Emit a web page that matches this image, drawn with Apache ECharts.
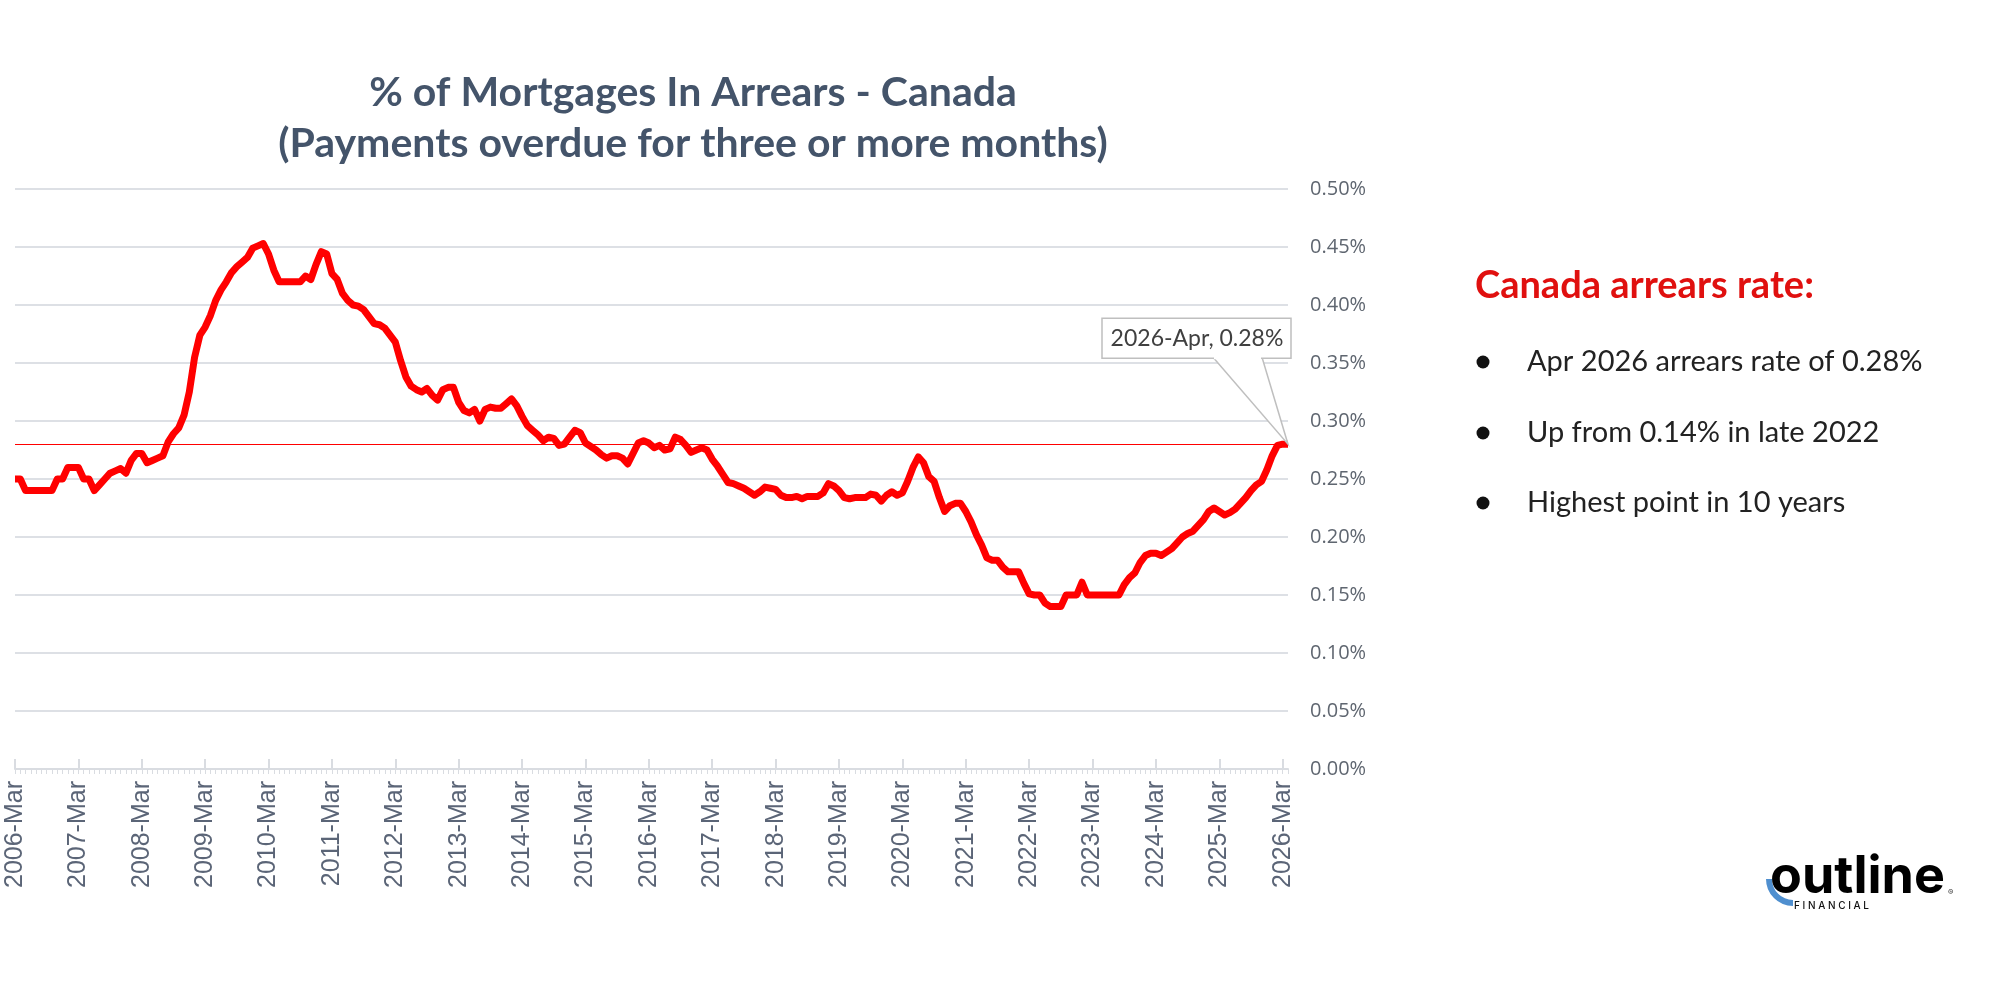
<!DOCTYPE html>
<html>
<head>
<meta charset="utf-8">
<script src="https://cdn.jsdelivr.net/npm/echarts@6/dist/echarts.min.js"></script>
<style>
html,body{margin:0;padding:0;background:#fff;}
#chart{width:1999px;height:988px;}
</style>
</head>
<body>
<div id="chart"></div>
<script>
// monthly arrears rate (%), 2006-Mar .. 2026-Apr
var arrears = [
    0.25,0.25,0.24,0.24,0.24,0.24,0.24,0.24,0.25,0.25,0.26,0.26,
    0.26,0.25,0.25,0.24,0.245,0.25,0.255,0.257,0.259,0.255,0.266,0.272,
    0.272,0.264,0.266,0.268,0.27,0.282,0.289,0.294,0.305,0.325,0.355,0.374,
    0.381,0.391,0.404,0.413,0.42,0.428,0.433,0.437,0.441,0.449,0.451,0.453,
    0.444,0.43,0.42,0.42,0.42,0.42,0.42,0.425,0.422,0.435,0.446,0.444,
    0.427,0.422,0.41,0.404,0.40,0.399,0.396,0.39,0.384,0.383,0.38,0.374,
    0.368,0.352,0.338,0.33,0.327,0.325,0.328,0.322,0.318,0.327,0.329,0.329,
    0.316,0.309,0.307,0.31,0.30,0.31,0.312,0.311,0.311,0.315,0.319,0.313,
    0.304,0.296,0.292,0.288,0.283,0.286,0.285,0.279,0.28,0.286,0.292,0.29,
    0.281,0.278,0.275,0.271,0.268,0.27,0.27,0.268,0.263,0.272,0.281,0.283,
    0.281,0.277,0.279,0.275,0.276,0.286,0.284,0.279,0.273,0.275,0.277,0.275,
    0.267,0.261,0.254,0.247,0.246,0.244,0.242,0.239,0.236,0.239,0.243,0.242,
    0.241,0.236,0.234,0.234,0.235,0.233,0.235,0.235,0.235,0.238,0.246,0.244,
    0.24,0.234,0.233,0.234,0.234,0.234,0.237,0.236,0.231,0.236,0.239,0.236,
    0.238,0.248,0.26,0.269,0.264,0.252,0.248,0.234,0.222,0.227,0.229,0.229,
    0.222,0.213,0.202,0.193,0.182,0.18,0.18,0.174,0.17,0.17,0.17,0.16,
    0.151,0.15,0.15,0.143,0.14,0.14,0.14,0.15,0.15,0.15,0.161,0.15,
    0.15,0.15,0.15,0.15,0.15,0.15,0.159,0.165,0.169,0.178,0.184,0.186,
    0.186,0.184,0.187,0.19,0.195,0.2,0.203,0.205,0.21,0.215,0.222,0.225,
    0.222,0.219,0.221,0.224,0.229,0.234,0.24,0.245,0.248,0.258,0.27,0.279,
    0.28,0.28
];
var monthNames = ['Jan','Feb','Mar','Apr','May','Jun','Jul','Aug','Sep','Oct','Nov','Dec'];
var refLevel = 0.28;
var titleLines = ['% of Mortgages In Arrears - Canada', '(Payments overdue for three or more months)'];
var panelTitle = 'Canada arrears rate:';
var bullets = ['Apr 2026 arrears rate of 0.28%', 'Up from 0.14% in late 2022', 'Highest point in 10 years'];

var months = [];
for (var y = 2006; y <= 2026; y++) {
    for (var m = 0; m < 12; m++) {
        if (y == 2006 && m < 2) continue;
        if (y == 2026 && m > 3) continue;
        months.push(y + '-' + monthNames[m]);
    }
}
var lastIdx = arrears.length - 1;

var chart = echarts.init(document.getElementById('chart'));

var option = {
    backgroundColor: '#fff',
    animation: false,
    grid: {left: 15, right: 711, top: 189, bottom: 219},
    xAxis: [
        {
            type: 'category',
            data: months,
            boundaryGap: false,
            axisLine: {lineStyle: {color: '#d9dce1', width: 2}},
            axisTick: {interval: 0, length: 5, lineStyle: {color: '#d9dce1'}},
            axisLabel: {
                interval: 11, rotate: 90, margin: 12,
                fontFamily: 'Liberation Sans', fontSize: 25, color: '#5b6577'
            },
            splitLine: {show: false}
        },
        {
            // the taller yearly ticks
            type: 'category',
            data: months,
            boundaryGap: false,
            position: 'bottom',
            axisLine: {show: false},
            axisTick: {interval: 11, inside: true, length: 10, lineStyle: {color: '#d9dce1', width: 2}},
            axisLabel: {show: false}
        }
    ],
    yAxis: {
        type: 'value',
        position: 'right',
        min: 0, max: 0.5, interval: 0.05,
        axisLine: {show: false},
        axisTick: {show: false},
        axisLabel: {
            margin: 22, fontFamily: 'Open Sans', fontSize: 20, color: '#5f6670',
            formatter: function (v) { return v.toFixed(2) + '%'; }
        },
        splitLine: {lineStyle: {color: '#dde0e5', width: 2}}
    },
    series: [{
        type: 'line',
        data: arrears,
        showSymbol: false,
        lineStyle: {color: '#ff0000', width: 7, join: 'round'},
        itemStyle: {color: '#ff0000'},
        z: 5,
        markLine: {
            silent: true,
            symbol: 'none',
            label: {show: false},
            lineStyle: {color: '#ff0000', width: 1.2, type: 'solid'},
            data: [{yAxis: refLevel}]
        }
    }]
};
chart.setOption(option);

// callout anchored to the last point
var pt = chart.convertToPixel({seriesIndex: 0}, [months[lastIdx], arrears[lastIdx]]);
var px = pt[0], py = pt[1];

var graphics = [
    {type: 'text', x: 693, y: 93, style: {text: titleLines[0], fontFamily: 'Lato', fontWeight: 'bold', fontSize: 41, fill: '#44546a', textAlign: 'center', textVerticalAlign: 'middle'}},
    {type: 'text', x: 693, y: 144, style: {text: titleLines[1], fontFamily: 'Lato', fontWeight: 'bold', fontSize: 41, fill: '#44546a', textAlign: 'center', textVerticalAlign: 'middle'}},
    // callout
    {type: 'polygon', z: 10, shape: {points: [[px - 75, py - 87], [px - 26, py - 87], [px, py]]},
        style: {fill: '#fff', stroke: '#bfbfbf', lineWidth: 1.5}},
    {type: 'rect', z: 11, shape: {x: px - 186, y: py - 126, width: 189, height: 40},
        style: {fill: '#fff', stroke: '#bfbfbf', lineWidth: 1.5}},
    {type: 'rect', z: 12, shape: {x: px - 74, y: py - 88, width: 47, height: 3}, style: {fill: '#fff'}},
    {type: 'text', z: 13, x: px - 91, y: py - 106, style: {text: months[lastIdx] + ', ' + arrears[lastIdx].toFixed(2) + '%', fontFamily: 'Lato', fontSize: 23, fill: '#404040', textAlign: 'center', textVerticalAlign: 'middle'}},
    // right panel
    {type: 'text', x: 1475, y: 286, style: {text: panelTitle, fontFamily: 'Lato', fontWeight: 'bold', fontSize: 38, fill: '#e0100f', textVerticalAlign: 'middle'}}
];
var bulletY = [362, 433, 503];
for (var b = 0; b < bullets.length; b++) {
    graphics.push({type: 'circle', shape: {cx: 1483, cy: bulletY[b], r: 6.5}, style: {fill: '#111'}});
    graphics.push({type: 'text', x: 1527, y: bulletY[b], style: {text: bullets[b], fontFamily: 'Lato', fontSize: 29, fill: '#222', textVerticalAlign: 'middle'}});
}
// logo
graphics.push({type: 'arc', shape: {cx: 1793, cy: 879, r: 24, startAngle: Math.PI * 0.5, endAngle: Math.PI * 1.0}, style: {stroke: '#4f8fcf', lineWidth: 6, fill: null}});
graphics.push({type: 'text', x: 1770, y: 877, style: {text: 'outline', fontFamily: 'Inter', fontWeight: 700, fontSize: 52, fill: '#000', textVerticalAlign: 'middle'}});
graphics.push({type: 'text', x: 1794, y: 906, style: {text: 'F I N A N C I A L', fontFamily: 'Inter', fontWeight: 500, fontSize: 10, fill: '#111', textVerticalAlign: 'middle'}});
graphics.push({type: 'text', x: 1948, y: 893, style: {text: '\u00ae', fontFamily: 'Inter', fontSize: 8, fill: '#333', textVerticalAlign: 'middle'}});

chart.setOption({graphic: graphics});
</script>
</body>
</html>
